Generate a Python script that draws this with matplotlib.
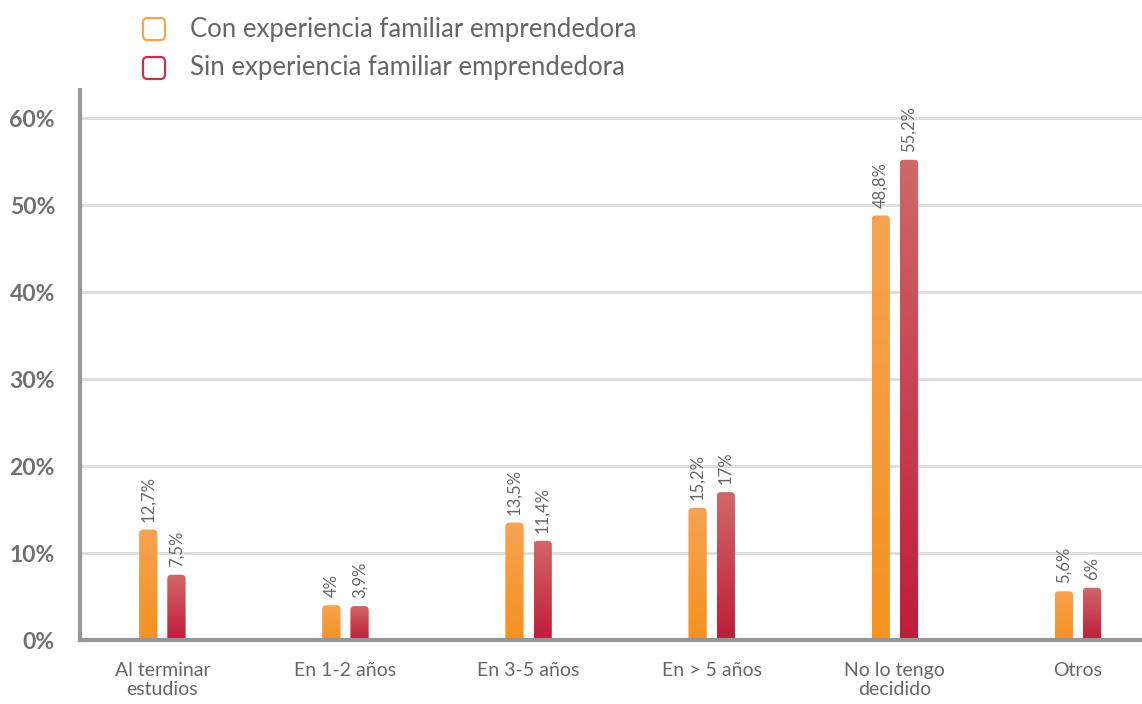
import matplotlib.pyplot as plt
import numpy as np
from matplotlib.patches import FancyBboxPatch
from matplotlib.colors import LinearSegmentedColormap

plt.rcParams['font.family'] = ['Lato', 'DejaVu Sans']

categories = ['Al terminar\nestudios', 'En 1-2 años', 'En 3-5 años', 'En > 5 años',
              'No lo tengo\ndecidido', 'Otros']
con_exp = [12.7, 4, 13.5, 15.2, 48.8, 5.6]
sin_exp = [7.5, 3.9, 11.4, 17, 55.2, 6]
con_labels = ['12,7%', '4%', '13,5%', '15,2%', '48,8%', '5,6%']
sin_labels = ['7,5%', '3,9%', '11,4%', '17%', '55,2%', '6%']
series_names = ['Con experiencia familiar emprendedora', 'Sin experiencia familiar emprendedora']

orange_cmap = LinearSegmentedColormap.from_list('o', ['#F5921F', '#F7A352'])
red_cmap = LinearSegmentedColormap.from_list('r', ['#C01C3A', '#D06868'])
text_gray = '#666666'

fig = plt.figure(figsize=(11.42, 7.04), dpi=100)
ax = fig.add_axes([0.070, 0.0909, 0.930, 0.781])

x = np.arange(len(categories))
w = 0.10
off = 0.077
ax.set_xlim(-0.45, 5.35)
ax.set_ylim(0, 63.2)

grad = np.linspace(0, 1, 256).reshape(-1, 1)
r = 0.022
aspect = 0.46 / r


def gbar(xc, h, cmap):
    p = FancyBboxPatch((xc - w / 2, -2), w, h + 2,
                       boxstyle='round,pad=0,rounding_size=%f' % r,
                       mutation_aspect=aspect, facecolor='none', edgecolor='none')
    ax.add_patch(p)
    im = ax.imshow(grad, cmap=cmap, origin='lower', aspect='auto',
                   extent=[xc - w / 2, xc + w / 2, 0, h], zorder=2)
    im.set_clip_path(p)


for i in range(len(categories)):
    gbar(x[i] - off, con_exp[i], orange_cmap)
    gbar(x[i] + off, sin_exp[i], red_cmap)
    ax.text(x[i] - off, con_exp[i] + 0.9, con_labels[i], rotation=90, ha='center',
            va='bottom', fontsize=12, color=text_gray)
    ax.text(x[i] + off, sin_exp[i] + 0.9, sin_labels[i], rotation=90, ha='center',
            va='bottom', fontsize=12, color=text_gray)

ax.set_xlim(-0.45, 5.35)
ax.set_ylim(0, 63.2)
ax.set_yticks(np.arange(0, 61, 10))
ax.set_yticklabels(['%d%%' % v for v in range(0, 61, 10)], fontsize=16.5,
                   fontweight='bold', color='#707070')
ax.set_xticks(x)
ax.set_xticklabels(categories, fontsize=14, color=text_gray, linespacing=1.12)
ax.tick_params(axis='both', length=0)
ax.tick_params(axis='x', pad=16)
ax.tick_params(axis='y', pad=18)
ax.grid(axis='y', color='#DDDDDD', linewidth=2)
ax.set_axisbelow(True)
for s in ['top', 'right']:
    ax.spines[s].set_visible(False)
for s in ['left', 'bottom']:
    ax.spines[s].set_color('#939598')
    ax.spines[s].set_linewidth(3)
    ax.spines[s].set_zorder(5)

# legend
for k, (name, col) in enumerate(zip(series_names, ['#F7A352', '#C9304A'])):
    yc = 1 - (29 + 39 * k) / 704
    box = FancyBboxPatch((143 / 1142, yc - 11 / 704), 22 / 1142, 22 / 704,
                         boxstyle='round,pad=0,rounding_size=0.004',
                         mutation_aspect=1142 / 704,
                         transform=fig.transFigure, facecolor='white',
                         edgecolor=col, linewidth=1.6)
    fig.patches.append(box)
    fig.text(190 / 1142, yc, name, fontsize=18.5, color=text_gray, va='center', ha='left')

fig.savefig('out.png', dpi=100)
